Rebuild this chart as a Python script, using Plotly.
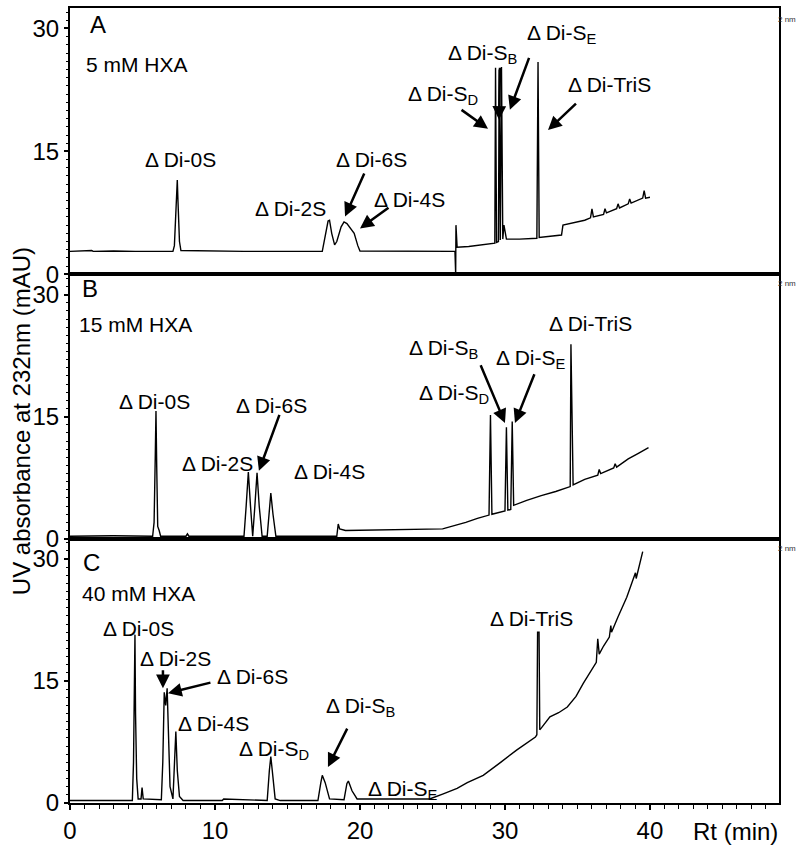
import plotly.graph_objects as go
from plotly.subplots import make_subplots

# ---------------- data ----------------
# Panel A: 5 mM HXA  (retention time, absorbance)
a_time = [0, 1.5, 1.6, 3, 4.5, 7.1, 7.2, 7.3, 7.35, 7.4, 7.45, 7.55, 7.65, 10, 12, 17.4, 17.6, 17.8, 17.9,
          18.05, 18.25, 18.4, 18.7, 18.9, 19.1, 19.4, 19.6, 19.85, 20.0, 26.55, 26.6, 26.62, 26.7, 27.5,
          28.5, 29.3, 29.35, 29.42, 29.55, 29.6, 29.68, 29.76, 29.85, 29.93, 30.1, 31.0, 32.2, 32.28,
          32.36, 33.0, 33.9, 34.0, 35.5, 35.9, 36.0, 36.1, 36.8, 36.9, 37.0, 37.7, 37.8, 37.9, 38.5,
          38.6, 38.7, 39.5, 39.6, 39.7, 40.0]
a_abs = [2.8, 2.9, 2.8, 2.85, 2.8, 2.8, 3.5, 8.5, 9.0, 11.5, 8.8, 4.0, 2.9, 2.85, 2.8, 2.8, 4.5, 6.5, 6.6,
         5.0, 3.6, 4.0, 5.8, 6.4, 6.2, 5.5, 5.0, 3.5, 2.85, 2.8, 0.0, 6.0, 3.3, 3.4,
         3.6, 3.8, 25.2, 3.9, 4.0, 25.0, 4.2, 25.3, 4.3, 6.0, 4.3, 4.3, 4.4, 25.9,
         4.5, 4.6, 4.8, 6.0, 6.6, 6.9, 8.0, 7.0, 7.3, 8.0, 7.5, 8.0, 8.6, 8.1, 8.6,
         9.2, 8.7, 9.3, 10.2, 9.3, 9.4]

# Panel B: 15 mM HXA
b_time = [0, 3, 5.7, 5.8, 5.88, 5.93, 5.98, 6.05, 6.15, 6.25, 8.0, 8.1, 8.2, 12.0, 12.15, 12.3, 12.45,
          12.6, 12.75, 12.9, 13.05, 13.25, 13.6, 13.75, 13.85, 14.0, 14.2, 18.4, 18.5, 18.6, 19.0,
          25.7, 26.5, 27.3, 28.1, 28.9, 29.0, 29.1, 30.0, 30.1, 30.2, 30.4, 30.5, 30.6, 31.5, 32.5,
          33.5, 34.5, 34.55, 34.7, 35.5, 36.4, 36.5, 36.6, 37.5, 37.6, 37.7, 38.5, 39.2, 39.9]
b_abs = [0.3, 0.35, 0.3, 2.0, 10.0, 15.7, 9.0, 1.5, 1.0, 0.3, 0.3, 0.6, 0.3, 0.3, 4.0, 8.2, 4.0,
         0.3, 4.0, 8.1, 4.0, 0.3, 0.3, 4.0, 5.6, 3.0, 0.3, 0.3, 1.8, 1.2, 1.0,
         1.2, 1.6, 2.0, 2.5, 2.9, 15.2, 3.0, 3.4, 13.7, 3.5, 3.6, 14.4, 4.1, 4.7, 5.3,
         5.8, 6.4, 23.9, 6.6, 7.3, 7.8, 8.5, 8.0, 8.7, 9.2, 8.8, 9.8, 10.5, 11.2]

# Panel C: 40 mM HXA
c_time = [0, 4.3, 4.38, 4.42, 4.48, 4.52, 4.6, 4.7, 4.9, 4.97, 5.05, 6.3, 6.4, 6.5, 6.6, 6.7, 6.8, 6.9,
          7.1, 7.2, 7.3, 7.4, 7.55, 7.8, 10.5, 10.6, 13.6, 13.75, 13.85, 13.95, 14.15, 14.5, 17.1,
          17.3, 17.4, 17.6, 17.9, 18.9, 19.1, 19.2, 19.45, 19.8, 24.8, 25.7, 26.7, 27.4, 28.5, 29.7,
          30.8, 32.1, 32.2, 32.25, 32.35, 32.4, 32.5, 33.1, 33.7, 34.3, 34.9, 35.4, 35.9, 36.3, 36.4,
          36.5, 36.8, 37.2, 37.3, 37.35, 37.8, 38.4, 38.7, 39.0, 39.05, 39.3, 39.5]
c_abs = [0.3, 0.3, 5.0, 11.0, 20.7, 11.0, 3.0, 0.5, 0.5, 1.9, 0.5, 0.4, 5.0, 13.6, 12.0, 14.1, 8.0, 2.0,
         0.5, 4.0, 8.8, 4.0, 0.8, 0.3, 0.3, 0.5, 0.3, 4.0, 5.7, 4.0, 0.5, 0.3, 0.3,
         2.5, 3.4, 2.5, 0.5, 0.4, 2.4, 2.7, 1.5, 0.5, 0.5, 1.1, 1.8, 2.5, 3.4, 5.0,
         6.5, 8.1, 8.4, 21.0, 21.0, 9.0, 9.2, 10.6, 11.1, 11.8, 13.1, 14.7, 16.1, 17.3, 20.2,
         18.3, 19.3, 20.4, 21.8, 21.0, 22.9, 25.3, 26.8, 28.3, 27.6, 29.3, 30.9]

panel_letters = ["A", "B", "C"]
panel_conditions = ["5 mM HXA", "15 mM HXA", "40 mM HXA"]
x_tick_vals = [0, 10, 20, 30, 40]
y_tick_vals = [0, 15, 30]

# peak labels: (panel row, label, label t, label y, arrow tail t, tail y, head t, head y)
peak_labels = [
    (1, "Δ Di-0S", 7.6, 14.0, None, None, None, None),
    (1, "Δ Di-2S", 15.2, 8.0, None, None, None, None),
    (1, "Δ Di-6S", 20.8, 14.0, 20.34, 12.5, 18.97, 7.06),
    (1, "Δ Di-4S", 23.4, 9.1, 22.07, 8.27, 20.0, 5.6),
    (1, "Δ Di-S<sub>D</sub>", 25.7, 21.9, 26.9, 20.2, 28.83, 17.76),
    (1, "Δ Di-S<sub>B</sub>", 28.5, 26.9, 29.66, 25.4, 29.59, 18.86),
    (1, "Δ Di-S<sub>E</sub>", 33.9, 29.3, 31.7, 26.6, 30.34, 20.07),
    (1, "Δ Di-TriS", 37.2, 23.2, 35.0, 21.0, 32.97, 17.6),
    (2, "Δ Di-0S", 5.8, 16.9, None, None, None, None),
    (2, "Δ Di-2S", 10.2, 9.2, None, None, None, None),
    (2, "Δ Di-6S", 13.9, 16.4, 14.48, 15.4, 13.03, 8.34),
    (2, "Δ Di-4S", 17.9, 8.3, None, None, None, None),
    (2, "Δ Di-S<sub>B</sub>", 25.8, 23.3, 28.28, 21.5, 30.0, 14.23),
    (2, "Δ Di-S<sub>E</sub>", 31.8, 22.1, 32.07, 20.4, 30.69, 14.23),
    (2, "Δ Di-S<sub>D</sub>", 26.5, 17.8, None, None, None, None),
    (2, "Δ Di-TriS", 35.9, 26.5, None, None, None, None),
    (3, "Δ Di-0S", 4.7, 21.5, None, None, None, None),
    (3, "Δ Di-2S", 7.3, 17.8, 6.41, 16.5, 6.41, 14.1),
    (3, "Δ Di-6S", 12.6, 15.5, 9.79, 14.85, 6.76, 13.5),
    (3, "Δ Di-4S", 9.9, 9.8, None, None, None, None),
    (3, "Δ Di-S<sub>D</sub>", 14.1, 6.5, None, None, None, None),
    (3, "Δ Di-S<sub>B</sub>", 20.1, 11.8, 19.17, 9.33, 17.79, 4.42),
    (3, "Δ Di-S<sub>E</sub>", 23.0, 1.6, None, None, None, None),
    (3, "Δ Di-TriS", 31.8, 22.7, None, None, None, None),
]

FONT = "Arial, Liberation Sans, sans-serif"

fig = make_subplots(rows=3, cols=1, shared_xaxes=True, vertical_spacing=0)

series = [(a_time, a_abs), (b_time, b_abs), (c_time, c_abs)]
for i, (t, v) in enumerate(series, start=1):
    fig.add_trace(go.Scatter(x=t, y=v, mode="lines", line=dict(color="black", width=1.4),
                             showlegend=False, hoverinfo="skip"), row=i, col=1)

domains = [[0.665, 1.0], [0.3325, 0.665], [0.0, 0.3325]]
for i in range(1, 4):
    ykey = "yaxis" if i == 1 else f"yaxis{i}"
    xkey = "xaxis" if i == 1 else f"xaxis{i}"
    fig.layout[ykey].update(domain=domains[i - 1], range=[0, 32.5], tickvals=y_tick_vals,
                            ticks="outside", ticklen=4, tickwidth=1.5, tickcolor="black",
                            minor=dict(dtick=1, ticks="outside", ticklen=2, tickcolor="black", tickwidth=1),
                            showline=True, linecolor="black", linewidth=2, mirror=True,
                            showgrid=False, zeroline=False,
                            tickfont=dict(family=FONT, size=24, color="black"))
    fig.layout[xkey].update(range=[0, 48.9], showline=True, linecolor="black", linewidth=2,
                            mirror=True, showgrid=False, zeroline=False)
    if i < 3:
        fig.layout[xkey].update(showticklabels=False, ticks="")
    else:
        fig.layout[xkey].update(tickvals=x_tick_vals, ticks="outside", ticklen=5, tickwidth=1.5,
                                tickcolor="black",
                                minor=dict(dtick=1, ticks="outside", ticklen=4, tickcolor="black",
                                           tickwidth=1),
                                tickfont=dict(family=FONT, size=24, color="black"))

annotations = []
letter_pos = [(1.93, 30.5), (1.38, 30.8), (1.5, 29.6)]
cond_pos = [(0.97, 25.6), (0.48, 26.3), (0.69, 25.8)]
for i in range(3):
    xr = "x" if i == 0 else f"x{i + 1}"
    yr = "y" if i == 0 else f"y{i + 1}"
    annotations.append(dict(x=letter_pos[i][0], y=letter_pos[i][1], xref=xr, yref=yr,
                            text=panel_letters[i], showarrow=False,
                            font=dict(family=FONT, size=24, color="black")))
    annotations.append(dict(x=cond_pos[i][0], y=cond_pos[i][1], xref=xr, yref=yr, xanchor="left",
                            text=panel_conditions[i], showarrow=False,
                            font=dict(family=FONT, size=21, color="black")))

for row, label, lx, ly, tx, ty, hx, hy in peak_labels:
    xr = "x" if row == 1 else f"x{row}"
    yr = "y" if row == 1 else f"y{row}"
    annotations.append(dict(x=lx, y=ly, xref=xr, yref=yr, text=label, showarrow=False,
                            font=dict(family=FONT, size=21, color="black")))
    if tx is not None:
        annotations.append(dict(x=hx, y=hy, xref=xr, yref=yr, ax=tx, ay=ty, axref=xr, ayref=yr,
                                text="", showarrow=True, arrowhead=2, arrowsize=1.1,
                                arrowwidth=2.5, arrowcolor="black"))

# small "2 nm" marks at top-right of each panel
for yp in [0.985, 0.653, 0.3205]:
    annotations.append(dict(x=1.0, y=yp, xref="paper", yref="paper", xanchor="center", yanchor="middle",
                            text="2 nm", showarrow=False, xshift=8,
                            font=dict(family=FONT, size=8, color="#333333")))

annotations.append(dict(x=-0.068, y=0.48, xref="paper", yref="paper", xanchor="center",
                        yanchor="middle", text="UV absorbance at 232nm (mAU)",
                        textangle=-90, showarrow=False, font=dict(family=FONT, size=24, color="black")))
annotations.append(dict(x=0.938, y=-0.036, xref="paper", yref="paper", xanchor="center",
                        yanchor="middle", text="Rt (min)",
                        showarrow=False, font=dict(family=FONT, size=24, color="black")))

fig.update_layout(width=800, height=852, margin=dict(l=70, r=21, t=6, b=49),
                  paper_bgcolor="white", plot_bgcolor="white", annotations=annotations,
                  showlegend=False)

fig.write_html("out.html", config={"displayModeBar": False},
               post_script="document.body.style.margin='0px';")
